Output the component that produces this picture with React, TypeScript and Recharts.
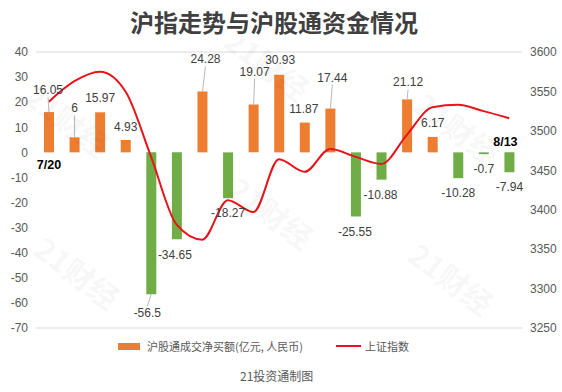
import { ComposedChart, Bar, Line, XAxis, YAxis, CartesianGrid, Cell } from "recharts"

const dates = [
  "7/20", "7/21", "7/22", "7/23", "7/26", "7/27", "7/28", "7/29", "7/30",
  "8/2", "8/3", "8/4", "8/5", "8/6", "8/9", "8/10", "8/11", "8/12", "8/13",
]
const netBuy = [
  16.05, 6, 15.97, 4.93, -56.5, -34.65, 24.28, -18.27, 19.07, 30.93,
  11.87, 17.44, -25.55, -10.88, 21.12, 6.17, -10.28, -0.7, -7.94,
]
const shIndex = [
  3537, 3563, 3575, 3550, 3467, 3381, 3362, 3412, 3397, 3464,
  3448, 3477, 3467, 3458, 3495, 3530, 3533, 3525, 3516,
]
const leftTicks = [-70, -60, -50, -40, -30, -20, -10, 0, 10, 20, 30, 40]
const rightTicks = [3250, 3300, 3350, 3400, 3450, 3500, 3550, 3600]

// label nudges (dx, dy from the bar end), like dragged excel labels
const labelShift: [number, number][] = [
  [-1, -22], [0, -29], [0, -14], [0, -13], [-4, 19], [-2, 16], [3, -32], [0, 15], [1, -33], [1, -15],
  [-1, -14], [2, -31], [-1, 16], [-1, 15], [1, -17], [0, -14], [0, 15], [0, 15], [0, 15],
]

// faint "21财经" watermark spots
const marks: [number, number][] = [
  [68, 120], [268, 64], [458, 128], [78, 272], [272, 212], [452, 278],
]

const data = dates.map((d, i) => ({ date: d, net: netBuy[i], idx: shIndex[i] }))

const ORANGE = "#ED7D31"
const GREEN = "#70AD47"
const RED = "#E8141B"
const NUM_FONT = "'Liberation Sans', Arial, sans-serif"
const CJK_FONT = "'Noto Sans CJK SC', 'Noto Sans', sans-serif"

function BarLabel(props: any) {
  const { x, y, width, height, value, index } = props
  const cx = x + width / 2
  const top = Math.min(y, y + height)
  const bottom = Math.max(y, y + height)
  const endY = value >= 0 ? top : bottom
  const zeroY = value >= 0 ? bottom : top
  const [dx, dy] = labelShift[index] || [0, value >= 0 ? -14 : 15]
  const lx = cx + dx
  const ly = endY + dy
  const leader = Math.abs(dy) >= 17
  const last = index === dates.length - 1
  return (
    <g>
      {leader && (
        <line
          x1={cx}
          y1={endY}
          x2={lx}
          y2={dy < 0 ? ly + 7 : ly - 7}
          stroke="#a6a6a6"
          strokeWidth={0.8}
        />
      )}
      <text
        x={lx}
        y={ly}
        textAnchor="middle"
        dominantBaseline="central"
        fontSize={12}
        fontFamily={NUM_FONT}
        fill="#404040"
      >
        {value}
      </text>
      {(index === 0 || last) && (
        <text
          x={cx + (last ? -4 : 0)}
          y={index === 0 ? zeroY + 13 : zeroY - 10}
          textAnchor="middle"
          dominantBaseline="central"
          fontSize={12.5}
          fontWeight="bold"
          fontFamily={NUM_FONT}
          fill="#000"
        >
          {dates[index]}
        </text>
      )}
    </g>
  )
}

export default function App() {
  return (
    <div
      style={{
        position: "absolute",
        left: 0,
        top: 0,
        width: 562,
        height: 392,
        background: "#fff",
        fontFamily: CJK_FONT,
      }}
    >
      <div
        style={{
          position: "absolute",
          top: 7,
          left: 0,
          width: 548,
          textAlign: "center",
          fontSize: 24,
          lineHeight: "30px",
          fontWeight: "bold",
          color: "#404040",
        }}
      >
        沪指走势与沪股通资金情况
      </div>

      <ComposedChart
        width={562}
        height={392}
        data={data}
        margin={{ top: 52, right: 0, bottom: 64, left: 0 }}
      >
        <CartesianGrid vertical={false} stroke="#d9d9d9" />
        <XAxis dataKey="date" hide />
        <YAxis
          yAxisId="left"
          width={36}
          domain={[-70, 40]}
          ticks={leftTicks}
          interval={0}
          axisLine={false}
          tickLine={false}
          tick={{ fill: "#595959", fontSize: 12, fontFamily: NUM_FONT }}
        />
        <YAxis
          yAxisId="right"
          orientation="right"
          width={40}
          domain={[3250, 3600]}
          ticks={rightTicks}
          interval={0}
          axisLine={false}
          tickLine={false}
          tick={{ fill: "#595959", fontSize: 12, fontFamily: NUM_FONT }}
        />
        <Bar
          yAxisId="left"
          dataKey="net"
          barSize={10}
          isAnimationActive={false}
          label={(p: any) => <BarLabel {...p} />}
        >
          {data.map((d, i) => (
            <Cell key={i} fill={d.net >= 0 ? ORANGE : GREEN} />
          ))}
        </Bar>
        <Line
          yAxisId="right"
          dataKey="idx"
          type="monotone"
          stroke={RED}
          strokeWidth={2}
          dot={false}
          isAnimationActive={false}
        />
      </ComposedChart>

      <svg
        width={562}
        height={392}
        style={{ position: "absolute", left: 0, top: 0, pointerEvents: "none" }}
      >
        {marks.map(([mx, my], i) => (
          <text
            key={i}
            x={mx}
            y={my}
            textAnchor="middle"
            dominantBaseline="central"
            fontSize={30}
            fontWeight="bold"
            fontFamily={CJK_FONT}
            fill="#000"
            fillOpacity={0.05}
            transform={`rotate(37 ${mx} ${my})`}
          >
            21财经
          </text>
        ))}
      </svg>

      <div
        style={{
          position: "absolute",
          top: 337,
          left: 118,
          display: "flex",
          alignItems: "center",
          fontSize: 11,
          lineHeight: "18px",
          color: "#595959",
        }}
      >
        <span style={{ width: 22, height: 7, background: ORANGE, marginRight: 7 }} />
        <span>沪股通成交净买额(亿元, 人民币)</span>
        <span style={{ width: 25, height: 2, background: RED, marginLeft: 33, marginRight: 4 }} />
        <span>上证指数</span>
      </div>

      <div
        style={{
          position: "absolute",
          top: 367,
          left: 240,
          fontSize: 12,
          lineHeight: "18px",
          color: "#595959",
        }}
      >
        21投资通制图
      </div>
    </div>
  )
}
